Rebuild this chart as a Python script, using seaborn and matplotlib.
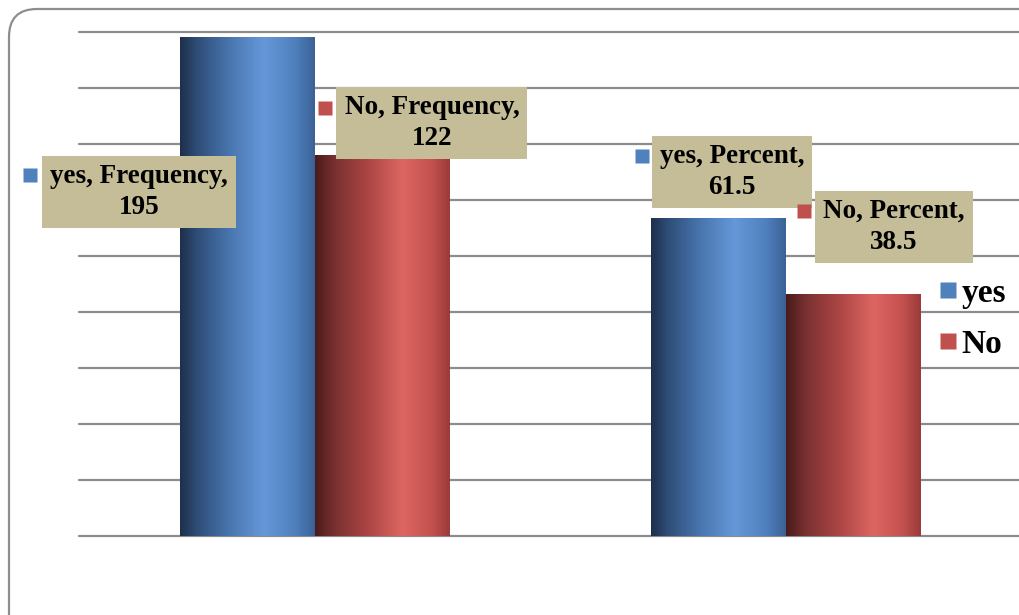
import numpy as np
import pandas as pd
import matplotlib
matplotlib.use('Agg')
import matplotlib.pyplot as plt
import seaborn as sns
from matplotlib import transforms
from matplotlib.colors import LinearSegmentedColormap
from matplotlib.lines import Line2D
from matplotlib.patches import FancyBboxPatch

# data
stat = ['Frequency', 'Frequency', 'Percent', 'Percent']
answer = ['yes', 'No', 'yes', 'No']
label_value = ['195', '122', '61.5', '38.5']
# bar heights (one unit = one gridline step)
bar_height = [8.91, 6.80, 5.68, 4.32]

df = pd.DataFrame({'stat': stat, 'answer': answer, 'height': bar_height,
                   'value': label_value})

sns.set_theme(style='white')
plt.rcParams['font.family'] = ['Liberation Serif', 'DejaVu Serif']
plt.rcParams['font.weight'] = 'bold'
plt.rcParams['text.color'] = 'black'

colors = {'yes': '#4F81BD', 'No': '#C0504D'}
cmaps = {
    'yes': LinearSegmentedColormap.from_list('blue_grad', [
        (0.0, '#1E2F4B'), (0.12, '#2E4C75'), (0.35, '#4773AB'),
        (0.62, '#6598D9'), (0.85, '#5080BE'), (1.0, '#3B6296')]),
    'No': LinearSegmentedColormap.from_list('red_grad', [
        (0.0, '#4A1B1B'), (0.15, '#7A3131'), (0.38, '#A94443'),
        (0.65, '#DD6662'), (0.86, '#C5524F'), (1.0, '#9B3B3B')]),
}

fig = plt.figure(figsize=(10.19, 6.15), dpi=100)
ax = fig.add_axes([79 / 1019, 79 / 615, 942 / 1019, 504 / 615])

sns.barplot(data=df, x='stat', y='height', hue='answer', palette=colors,
            width=0.573, gap=0, legend=False, ax=ax, zorder=2)

ax.set_xlim(-0.5, 1.5)
ax.set_ylim(0, 9)
ax.set_yticks(np.arange(0, 10))
ax.set_axisbelow(True)
ax.yaxis.grid(True, color='#8C8C8C', lw=1.6)
ax.xaxis.grid(False)
for gl in ax.get_ygridlines():
    gl.set_clip_on(False)
ax.set_xticks([])
ax.set_yticklabels([])
ax.tick_params(left=False, bottom=False)
ax.set_xlabel('')
ax.set_ylabel('')
for s in ax.spines.values():
    s.set_visible(False)

# gradient fill of every bar
grad = np.linspace(0, 1, 256).reshape(1, -1)
bars = {}
for container, name in zip(ax.containers, ['yes', 'No']):
    for patch, st in zip(container.patches, ['Frequency', 'Percent']):
        bars[(st, name)] = patch
        x, w, h = patch.get_x(), patch.get_width(), patch.get_height()
        im = ax.imshow(grad, extent=[x, x + w, 0, h], aspect='auto',
                       cmap=cmaps[name], zorder=2.5)
        im.set_clip_path(patch)
        patch.set_facecolor('none')
        patch.set_edgecolor('none')
ax.set_xlim(-0.5, 1.5)
ax.set_ylim(0, 9)

# data labels: (box dx, box dy, marker dx, marker dy) in pixels from bar top centre
label_offsets = [(-108, -155, -217, -138),
                 (50, 32, -57, 47),
                 (14, 46, -76, 62),
                 (41, 67, -49, 83)]

for (st, name, val), (bx, by, mx, my) in zip(
        zip(stat, answer, label_value), label_offsets):
    p = bars[(st, name)]
    cx = p.get_x() + p.get_width() / 2
    top = p.get_height()
    ax.text(cx, top, f'{name}, {st},\n{val}',
            transform=transforms.offset_copy(ax.transData, fig, x=bx, y=by, units='dots'),
            ha='center', va='center', multialignment='center', linespacing=1.33,
            fontsize=19.5, fontweight='bold', color='black', zorder=5,
            bbox=dict(boxstyle='square,pad=0.3', fc='#C4BD97', ec='none'))
    ax.plot(cx, top, marker='s', ms=10, color=colors[name], mec='none',
            transform=transforms.offset_copy(ax.transData, fig, x=mx, y=my, units='dots'),
            zorder=5, clip_on=False)

# legend
handles = [Line2D([], [], ls='none', marker='s', ms=11, color=colors[k], mec='none')
           for k in ['yes', 'No']]
fig.legend(handles, ['yes', 'No'], loc='upper left',
           bbox_to_anchor=(939 / 1019, 1 - 278 / 615), frameon=False,
           prop={'family': 'Liberation Serif', 'weight': 'bold', 'size': 24},
           labelcolor='black',
           handlelength=0.55, handletextpad=0.12, labelspacing=0.6,
           borderaxespad=0, borderpad=0)

# rounded outer frame
frame = FancyBboxPatch((9, -40), 1060, 646, boxstyle='round,pad=0,rounding_size=28',
                       transform=transforms.IdentityTransform(), fc='none',
                       ec='#8E8E8E', lw=1.6)
fig.patches.append(frame)

fig.savefig('out.png', dpi=100)
